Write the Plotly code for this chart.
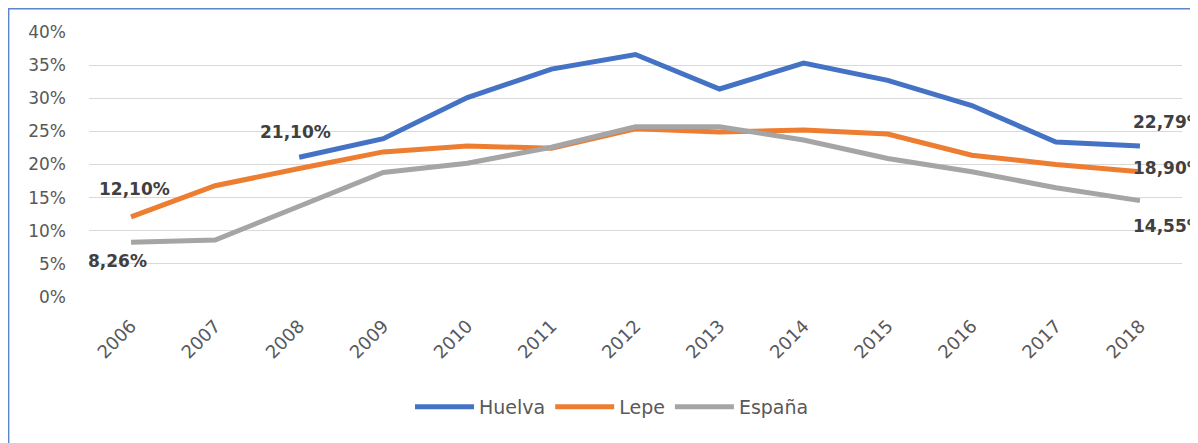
import plotly.graph_objects as go

years = ["2006", "2007", "2008", "2009", "2010", "2011", "2012",
         "2013", "2014", "2015", "2016", "2017", "2018"]
huelva = [None, None, 21.10, 23.9, 30.1, 34.4, 36.6, 31.4, 35.3, 32.7, 28.9, 23.4, 22.79]
lepe = [12.10, 16.8, 19.4, 21.9, 22.8, 22.45, 25.4, 24.9, 25.2, 24.6, 21.4, 20.0, 18.90]
espana = [8.26, 8.6, 13.7, 18.8, 20.2, 22.6, 25.7, 25.7, 23.7, 20.9, 18.9, 16.5, 14.55]

series = [("Huelva", huelva, "#4472C4"), ("Lepe", lepe, "#ED7D31"), ("España", espana, "#A5A5A5")]

FONT = "DejaVu Sans"

fig = go.Figure()
for name, vals, col in series:
    fig.add_trace(go.Scatter(x=years, y=vals, name=name, mode="lines",
                             line=dict(color=col, width=5),
                             connectgaps=False))

def fmt(v):
    return ("%.2f%%" % v).replace(".", ",")

# data labels: (year, value, xanchor, xshift, yshift)
labels = [
    ("2008", huelva[2], "center", -4, 25),
    ("2006", lepe[0], "center", 3, 28),
    ("2006", espana[0], "center", -14, -19),
    ("2018", huelva[12], "left", -9, 24),
    ("2018", lepe[12], "left", -9, 4),
    ("2018", espana[12], "left", -9, -25),
]
for yr, v, xa, xs, ys in labels:
    fig.add_annotation(x=years.index(yr), y=v, xref="x", yref="y", text=fmt(v), showarrow=False,
                       xanchor=xa, yanchor="middle", xshift=xs, yshift=ys,
                       font=dict(family=FONT, size=17, color="#404040", weight="bold"))

# page is offset by the browser's 8px body margin
W, H = 1190, 435
L, R, T, B = 81, 16, 24, 146
PW, PH = W - L - R, H - T - B

# page px -> paper
def px(xp):
    return (xp - 8 - L) / PW

def py(yp):
    return (H - B - (yp - 8)) / PH

# chart border
fig.add_shape(type="rect", xref="paper", yref="paper",
              x0=px(8.7), x1=px(1215), y0=py(460), y1=py(8.7),
              line=dict(color="#5B86C8", width=1.4), fillcolor="rgba(0,0,0,0)", layer="below")

fig.update_layout(
    width=W, height=H,
    margin=dict(l=L, r=R, t=T, b=B, autoexpand=False),
    paper_bgcolor="white", plot_bgcolor="white",
    font=dict(family=FONT, size=17, color="#595959"),
    showlegend=True,
    legend=dict(orientation="h", x=px(612), xanchor="center", y=py(407), yanchor="middle",
                font=dict(family=FONT, size=19, color="#595959"),
                itemwidth=59, tracegroupgap=0),
    xaxis=dict(type="category", range=[-0.5, len(years) - 0.5], showgrid=False,
               showline=False, ticks="", automargin=False, ticklabelstandoff=14,
               tickangle=-45, tickfont=dict(family=FONT, size=18, color="#595959"),
               zeroline=False),
    yaxis=dict(range=[0, 40], dtick=5, ticksuffix="%", showgrid=True, automargin=False,
               gridcolor="#D9D9D9", gridwidth=1.3, zeroline=False, showline=False,
               ticks="", ticklabelstandoff=22,
               tickfont=dict(family=FONT, size=17, color="#595959")),
)

fig.write_html("out.html")
